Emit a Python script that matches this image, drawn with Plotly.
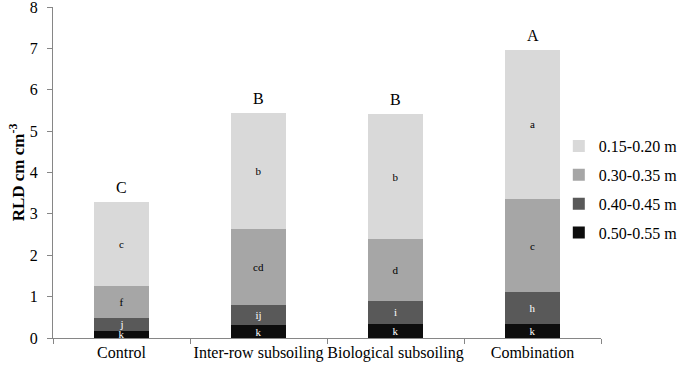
import plotly.graph_objects as go

categories = ["Control", "Inter-row subsoiling", "Biological subsoiling", "Combination"]
depth_050_055 = [0.18, 0.31, 0.34, 0.34]
depth_040_045 = [0.31, 0.49, 0.56, 0.76]
depth_030_035 = [0.76, 1.83, 1.49, 2.27]
depth_015_020 = [2.03, 2.81, 3.02, 3.59]
letters_050_055 = ["k", "k", "k", "k"]
letters_040_045 = ["j", "ij", "i", "h"]
letters_030_035 = ["f", "cd", "d", "c"]
letters_015_020 = ["c", "b", "b", "a"]
total_letters = ["C", "B", "B", "A"]

FONT = "Liberation Serif, Times New Roman, serif"

series = [
    ("0.50-0.55 m", depth_050_055, letters_050_055, "#0d0d0d", "white", 4),
    ("0.40-0.45 m", depth_040_045, letters_040_045, "#595959", "white", 3),
    ("0.30-0.35 m", depth_030_035, letters_030_035, "#a6a6a6", "black", 2),
    ("0.15-0.20 m", depth_015_020, letters_015_020, "#d9d9d9", "black", 1),
]

fig = go.Figure()
for i, (name, vals, lets, col, tcol, rank) in enumerate(series):
    fig.add_trace(go.Bar(
        x=categories, y=vals, name=name, marker=dict(color=col, line=dict(width=0)),
        text=lets, textposition="inside", insidetextanchor="middle", textangle=0,
        constraintext="none", textfont=dict(family=FONT, size=11, color=tcol),
        legendgroup=str(i), legendrank=rank, hoverinfo="skip",
    ))

totals = [sum(v) for v in zip(depth_050_055, depth_040_045, depth_030_035, depth_015_020)]
for cat, tot, lab in zip(categories, totals, total_letters):
    fig.add_annotation(x=cat, y=tot, text=lab, showarrow=False, yanchor="bottom",
                       yshift=4, font=dict(family=FONT, size=16, color="black"))

fig.update_layout(
    width=694, height=375, barmode="stack", bargap=0.6,
    margin=dict(l=53, r=93, t=7, b=37),
    paper_bgcolor="white", plot_bgcolor="white",
    font=dict(family=FONT, color="black"),
    legend=dict(x=0.923, y=0.631, xanchor="left", yanchor="top", traceorder="grouped",
                tracegroupgap=5, itemwidth=30, font=dict(family=FONT, size=16),
                bgcolor="rgba(0,0,0,0)"),
    xaxis=dict(showline=True, linecolor="#868686", linewidth=1, ticks="outside",
               tickson="boundaries", ticklen=5, tickcolor="#868686", automargin=False,
               tickangle=0, tickfont=dict(family=FONT, size=16), showgrid=False),
    yaxis=dict(range=[0, 8], dtick=1, showline=True, linecolor="#868686", linewidth=1,
               ticks="outside", ticklen=5, tickcolor="#868686", showgrid=False, zeroline=False,
               automargin=False, tickfont=dict(family=FONT, size=16), ticklabelstandoff=6,
               ticklabeloverflow="allow",
               title=dict(text="<b>RLD cm cm<sup>-3</sup></b>", font=dict(family=FONT, size=17), standoff=0)),
)

fig.write_html("out.html", config={"displayModeBar": False},
               post_script="document.body.style.margin='0';")
